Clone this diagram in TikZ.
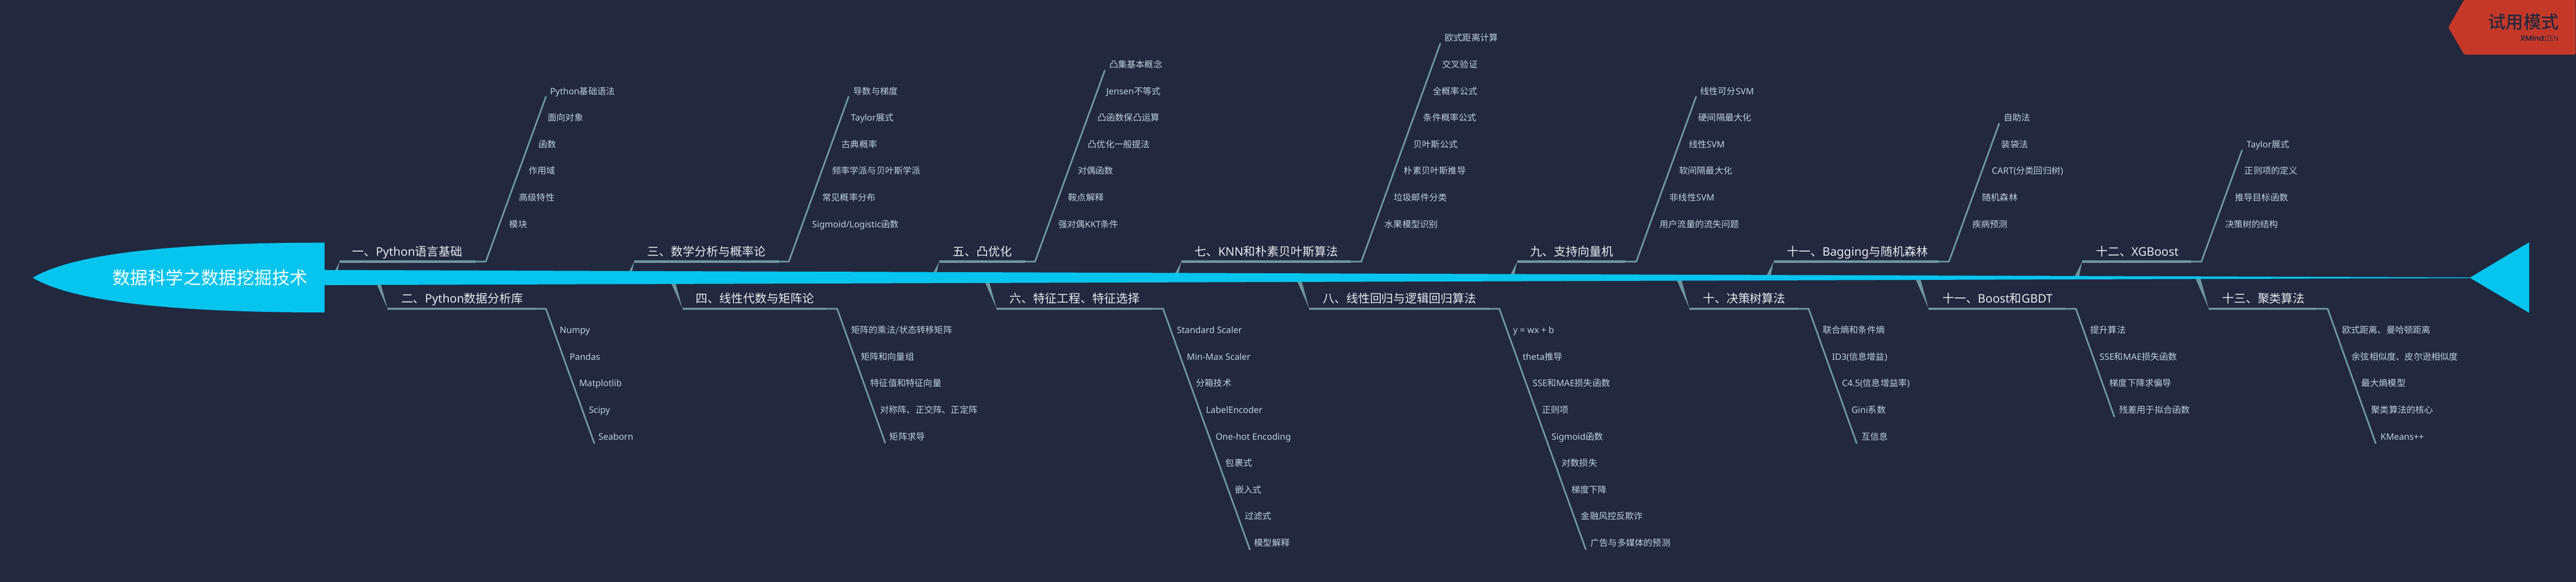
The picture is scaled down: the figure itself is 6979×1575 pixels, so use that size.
\documentclass[tikz,border=0pt]{standalone}
\usepackage{fontspec}
\setmainfont[BoldFont={Noto Sans CJK SC Medium}]{Noto Sans CJK SC}
\newfontfamily\latnFont{Noto Sans}
\newfontfamily\markFont[BoldFont={* SemiBold},UprightFont={* Light}]{Poppins}
\newcommand{\lat}[1]{{\latnFont #1}}
\definecolor{sBack}{HTML}{22283E}
\definecolor{sCyan}{HTML}{05C4EE}
\definecolor{sLimb}{HTML}{6F969F}
\definecolor{sLeaf}{HTML}{BDD3DE}
\definecolor{sHead}{HTML}{E9EBF0}
\definecolor{sRed}{HTML}{C53828}

\begin{document}
\begin{tikzpicture}[x=0.5pt,y=-0.5pt]
		\tikzstyle{rootText} = [inner sep=0pt, text=white, font=\fontsize{24}{24}\selectfont]
		\tikzstyle{title} = [anchor=west, inner sep=0pt, text=sHead, text height=0.88em, text depth=0.12em, font=\fontsize{16}{16}\selectfont]
		\tikzstyle{leaf} = [anchor=west, inner sep=0pt, text=sLeaf, text height=0.88em, text depth=0.12em, font=\fontsize{12}{12}\selectfont]
		\tikzstyle{wedge} = [fill=sLimb]
		\tikzstyle{barThick} = [draw=sLimb, line width=3.25pt]
		\tikzstyle{limb} = [draw=sLimb, line width=2.25pt, line cap=round, miter limit=10]

		\useasboundingbox (0,0) rectangle (6979,1575);
		\fill[sBack] (-10,-10) rectangle (6989,1585);

		% spine ends
		\coordinate (tip) at (89,752);
		\coordinate (headTop) at (879,657);
		\coordinate (headBot) at (879,846);
		\coordinate (spineTopL) at (879,731);
		\coordinate (spineBotL) at (879,772);
		\coordinate (spineTopR) at (6691,751);
		\coordinate (spineBotR) at (6691,753);
		\coordinate (tailTip) at (6691,752);
		\coordinate (tailTop) at (6852,656);
		\coordinate (tailBot) at (6852,847);

		% one
		\coordinate (sOne) at (898,752);
		\coordinate (bOne) at (920,708.5);
		\coordinate (mOne) at (1289,708.5);
		\coordinate (cOne) at (1316,708.5);
		\coordinate (eOne) at (1479,262);
		\fill[wedge] (sOne) -- ++(13,0) -- (bOne) -- cycle;
		\draw[barThick] (bOne) -- (mOne);
		\draw[limb] (mOne) -- (cOne) -- (eOne);
		\node[title] (tOne) at (954,685) {一、\lat{Python}语言基础};
		\node[leaf] (lOneA) at (1490,248) {\lat{Python}基础语法};
		\node[leaf] (lOneB) at (1484,320) {面向对象};
		\node[leaf] (lOneC) at (1459,392) {函数};
		\node[leaf] (lOneD) at (1432,464) {作用域};
		\node[leaf] (lOneE) at (1406,536) {高级特性};
		\node[leaf] (lOneF) at (1380,608) {模块};

		% two
		\coordinate (sTwo) at (1013,752);
		\coordinate (bTwo) at (1050,836);
		\coordinate (mTwo) at (1452,836);
		\coordinate (cTwo) at (1479,836);
		\coordinate (eTwo) at (1610,1200);
		\fill[wedge] (sTwo) -- ++(14,0) -- (bTwo) -- cycle;
		\draw[barThick] (bTwo) -- (mTwo);
		\draw[limb] (mTwo) -- (cTwo) -- (eTwo);
		\node[title] (tTwo) at (1087,813) {二、\lat{Python}数据分析库};
		\node[leaf] (lTwoA) at (1516,895) {\lat{Numpy}};
		\node[leaf] (lTwoB) at (1543,967) {\lat{Pandas}};
		\node[leaf] (lTwoC) at (1569,1039) {\lat{Matplotlib}};
		\node[leaf] (lTwoD) at (1595,1111) {\lat{Scipy}};
		\node[leaf] (lTwoE) at (1621,1183) {\lat{Seaborn}};

		% three
		\coordinate (sThree) at (1696,752);
		\coordinate (bThree) at (1718,708.5);
		\coordinate (mThree) at (2110,708.5);
		\coordinate (cThree) at (2137,708.5);
		\coordinate (eThree) at (2299,262);
		\fill[wedge] (sThree) -- ++(13,0) -- (bThree) -- cycle;
		\draw[barThick] (bThree) -- (mThree);
		\draw[limb] (mThree) -- (cThree) -- (eThree);
		\node[title] (tThree) at (1754,685) {三、数学分析与概率论};
		\node[leaf] (lThreeA) at (2312,248) {导数与梯度};
		\node[leaf] (lThreeB) at (2305,320) {\lat{Taylor}展式};
		\node[leaf] (lThreeC) at (2280,392) {古典概率};
		\node[leaf] (lThreeD) at (2254,464) {频率学派与贝叶斯学派};
		\node[leaf] (lThreeE) at (2228,536) {常见概率分布};
		\node[leaf] (lThreeF) at (2200,608) {\lat{Sigmoid/Logistic}函数};

		% four
		\coordinate (sFour) at (1812,752);
		\coordinate (bFour) at (1849,836);
		\coordinate (mFour) at (2239,836);
		\coordinate (cFour) at (2268,836);
		\coordinate (eFour) at (2398,1199);
		\fill[wedge] (sFour) -- ++(14,0) -- (bFour) -- cycle;
		\draw[barThick] (bFour) -- (mFour);
		\draw[limb] (mFour) -- (cFour) -- (eFour);
		\node[title] (tFour) at (1885,813) {四、线性代数与矩阵论};
		\node[leaf] (lFourA) at (2306,895) {矩阵的乘法/状态转移矩阵};
		\node[leaf] (lFourB) at (2332,967) {矩阵和向量组};
		\node[leaf] (lFourC) at (2358,1039) {特征值和特征向量};
		\node[leaf] (lFourD) at (2384,1111) {对称阵、正交阵、正定阵};
		\node[leaf] (lFourE) at (2410,1183) {矩阵求导};

		% five
		\coordinate (sFive) at (2522,752);
		\coordinate (bFive) at (2544,708.5);
		\coordinate (mFive) at (2777,708.5);
		\coordinate (cFive) at (2804,708.5);
		\coordinate (eFive) at (2993,191);
		\fill[wedge] (sFive) -- ++(13,0) -- (bFive) -- cycle;
		\draw[barThick] (bFive) -- (mFive);
		\draw[limb] (mFive) -- (cFive) -- (eFive);
		\node[title] (tFive) at (2581,685) {五、凸优化};
		\node[leaf] (lFiveA) at (3005,176) {凸集基本概念};
		\node[leaf] (lFiveB) at (2997,248) {\lat{Jensen}不等式};
		\node[leaf] (lFiveC) at (2973,320) {凸函数保凸运算};
		\node[leaf] (lFiveD) at (2947,392) {凸优化一般提法};
		\node[leaf] (lFiveE) at (2920,464) {对偶函数};
		\node[leaf] (lFiveF) at (2894,536) {鞍点解释};
		\node[leaf] (lFiveG) at (2867,608) {强对偶\lat{KKT}条件};

		% six
		\coordinate (sSix) at (2663,752);
		\coordinate (bSix) at (2700,836);
		\coordinate (mSix) at (3121,836);
		\coordinate (cSix) at (3151,836);
		\coordinate (eSix) at (3386,1488);
		\fill[wedge] (sSix) -- ++(14,0) -- (bSix) -- cycle;
		\draw[barThick] (bSix) -- (mSix);
		\draw[limb] (mSix) -- (cSix) -- (eSix);
		\node[title] (tSix) at (2735,813) {六、特征工程、特征选择};
		\node[leaf] (lSixA) at (3188,895) {\lat{Standard Scaler}};
		\node[leaf] (lSixB) at (3215,967) {\lat{Min-Max Scaler}};
		\node[leaf] (lSixC) at (3240,1039) {分箱技术};
		\node[leaf] (lSixD) at (3267,1111) {\lat{LabelEncoder}};
		\node[leaf] (lSixE) at (3293,1183) {\lat{One-hot Encoding}};
		\node[leaf] (lSixF) at (3320,1255) {包裹式};
		\node[leaf] (lSixG) at (3346,1327) {嵌入式};
		\node[leaf] (lSixH) at (3372,1399) {过滤式};
		\node[leaf] (lSixI) at (3398,1471) {模型解释};

		% seven
		\coordinate (sSeven) at (3178,752);
		\coordinate (bSeven) at (3200,708.5);
		\coordinate (mSeven) at (3659,708.5);
		\coordinate (cSeven) at (3688,708.5);
		\coordinate (eSeven) at (3902,118);
		\fill[wedge] (sSeven) -- ++(13,0) -- (bSeven) -- cycle;
		\draw[barThick] (bSeven) -- (mSeven);
		\draw[limb] (mSeven) -- (cSeven) -- (eSeven);
		\node[title] (tSeven) at (3236,685) {七、\lat{KNN}和朴素贝叶斯算法};
		\node[leaf] (lSevenA) at (3914,104) {欧式距离计算};
		\node[leaf] (lSevenB) at (3907,176) {交叉验证};
		\node[leaf] (lSevenC) at (3882,248) {全概率公式};
		\node[leaf] (lSevenD) at (3856,320) {条件概率公式};
		\node[leaf] (lSevenE) at (3829,392) {贝叶斯公式};
		\node[leaf] (lSevenF) at (3803,464) {朴素贝叶斯推导};
		\node[leaf] (lSevenG) at (3776,536) {垃圾邮件分类};
		\node[leaf] (lSevenH) at (3751,608) {水果模型识别};

		% eight
		\coordinate (sEight) at (3510,752);
		\coordinate (bEight) at (3547,836);
		\coordinate (mEight) at (4035,836);
		\coordinate (cEight) at (4062,836);
		\coordinate (eEight) at (4296,1487);
		\fill[wedge] (sEight) -- ++(14,0) -- (bEight) -- cycle;
		\draw[barThick] (bEight) -- (mEight);
		\draw[limb] (mEight) -- (cEight) -- (eEight);
		\node[title] (tEight) at (3583,813) {八、线性回归与逻辑回归算法};
		\node[leaf] (lEightA) at (4099,895) {\lat{y = wx + b}};
		\node[leaf] (lEightB) at (4125,967) {\lat{theta}推导};
		\node[leaf] (lEightC) at (4152,1039) {\lat{SSE}和\lat{MAE}损失函数};
		\node[leaf] (lEightD) at (4178,1111) {正则项};
		\node[leaf] (lEightE) at (4203,1183) {\lat{Sigmoid}函数};
		\node[leaf] (lEightF) at (4231,1255) {对数损失};
		\node[leaf] (lEightG) at (4257,1327) {梯度下降};
		\node[leaf] (lEightH) at (4283,1399) {金融风控反欺诈};
		\node[leaf] (lEightI) at (4309,1471) {广告与多媒体的预测};

		% nine
		\coordinate (sNine) at (4088,752);
		\coordinate (bNine) at (4110,708.5);
		\coordinate (mNine) at (4404,708.5);
		\coordinate (cNine) at (4433,708.5);
		\coordinate (eNine) at (4595,262);
		\fill[wedge] (sNine) -- ++(13,0) -- (bNine) -- cycle;
		\draw[barThick] (bNine) -- (mNine);
		\draw[limb] (mNine) -- (cNine) -- (eNine);
		\node[title] (tNine) at (4146,685) {九、支持向量机};
		\node[leaf] (lNineA) at (4606,248) {线性可分\lat{SVM}};
		\node[leaf] (lNineB) at (4601,320) {硬间隔最大化};
		\node[leaf] (lNineC) at (4575,392) {线性\lat{SVM}};
		\node[leaf] (lNineD) at (4549,464) {软间隔最大化};
		\node[leaf] (lNineE) at (4523,536) {非线性\lat{SVM}};
		\node[leaf] (lNineF) at (4496,608) {用户流量的流失问题};

		% ten
		\coordinate (sTen) at (4540,752);
		\coordinate (bTen) at (4577,836);
		\coordinate (mTen) at (4873,836);
		\coordinate (cTen) at (4900,836);
		\coordinate (eTen) at (5030,1200);
		\fill[wedge] (sTen) -- ++(14,0) -- (bTen) -- cycle;
		\draw[barThick] (bTen) -- (mTen);
		\draw[limb] (mTen) -- (cTen) -- (eTen);
		\node[title] (tTen) at (4613,813) {十、决策树算法};
		\node[leaf] (lTenA) at (4938,895) {联合熵和条件熵};
		\node[leaf] (lTenB) at (4963,967) {\lat{ID3(}信息增益\lat{)}};
		\node[leaf] (lTenC) at (4990,1039) {\lat{C4.5(}信息增益率\lat{)}};
		\node[leaf] (lTenD) at (5016,1111) {\lat{Gini}系数};
		\node[leaf] (lTenE) at (5043,1183) {互信息};

		% eleven, upper one
		\coordinate (sBag) at (4783,752);
		\coordinate (bBag) at (4805,708.5);
		\coordinate (mBag) at (5253,708.5);
		\coordinate (cBag) at (5280,708.5);
		\coordinate (eBag) at (5416,335);
		\fill[wedge] (sBag) -- ++(13,0) -- (bBag) -- cycle;
		\draw[barThick] (bBag) -- (mBag);
		\draw[limb] (mBag) -- (cBag) -- (eBag);
		\node[title] (tBag) at (4841,685) {十一、\lat{Bagging}与随机森林};
		\node[leaf] (lBagA) at (5428,320) {自助法};
		\node[leaf] (lBagB) at (5422,392) {装袋法};
		\node[leaf] (lBagC) at (5396,464) {\lat{CART(}分类回归树\lat{)}};
		\node[leaf] (lBagD) at (5370,536) {随机森林};
		\node[leaf] (lBagE) at (5343,608) {疾病预测};

		% eleven, lower one
		\coordinate (sBoost) at (5188,752);
		\coordinate (bBoost) at (5225,836);
		\coordinate (mBoost) at (5594,836);
		\coordinate (cBoost) at (5624,836);
		\coordinate (eBoost) at (5728,1128);
		\fill[wedge] (sBoost) -- ++(14,0) -- (bBoost) -- cycle;
		\draw[barThick] (bBoost) -- (mBoost);
		\draw[limb] (mBoost) -- (cBoost) -- (eBoost);
		\node[title] (tBoost) at (5262,813) {十一、\lat{Boost}和\lat{GBDT}};
		\node[leaf] (lBoostA) at (5663,895) {提升算法};
		\node[leaf] (lBoostB) at (5688,967) {\lat{SSE}和\lat{MAE}损失函数};
		\node[leaf] (lBoostC) at (5715,1039) {梯度下降求偏导};
		\node[leaf] (lBoostD) at (5741,1111) {残差用于拟合函数};

		% twelve
		\coordinate (sTwelve) at (5619,752);
		\coordinate (bTwelve) at (5641,708.5);
		\coordinate (mTwelve) at (5936,708.5);
		\coordinate (cTwelve) at (5964,708.5);
		\coordinate (eTwelve) at (6074,407);
		\fill[wedge] (sTwelve) -- ++(13,0) -- (bTwelve) -- cycle;
		\draw[barThick] (bTwelve) -- (mTwelve);
		\draw[limb] (mTwelve) -- (cTwelve) -- (eTwelve);
		\node[title] (tTwelve) at (5678,685) {十二、\lat{XGBoost}};
		\node[leaf] (lTwelveA) at (6086,392) {\lat{Taylor}展式};
		\node[leaf] (lTwelveB) at (6081,464) {正则项的定义};
		\node[leaf] (lTwelveC) at (6055,536) {推导目标函数};
		\node[leaf] (lTwelveD) at (6028,608) {决策树的结构};

		% thirteen
		\coordinate (sThirteen) at (5947,752);
		\coordinate (bThirteen) at (5984,836);
		\coordinate (mThirteen) at (6274,836);
		\coordinate (cThirteen) at (6306,836);
		\coordinate (eThirteen) at (6436,1200);
		\fill[wedge] (sThirteen) -- ++(14,0) -- (bThirteen) -- cycle;
		\draw[barThick] (bThirteen) -- (mThirteen);
		\draw[limb] (mThirteen) -- (cThirteen) -- (eThirteen);
		\node[title] (tThirteen) at (6020,813) {十三、聚类算法};
		\node[leaf] (lThirteenA) at (6345,895) {欧式距离、曼哈顿距离};
		\node[leaf] (lThirteenB) at (6371,967) {余弦相似度、皮尔逊相似度};
		\node[leaf] (lThirteenC) at (6397,1039) {最大熵模型};
		\node[leaf] (lThirteenD) at (6424,1111) {聚类算法的核心};
		\node[leaf] (lThirteenE) at (6449,1183) {\lat{KMeans++}};

		% spine, head and tail go over the wedges
		\fill[sCyan] (spineTopL) -- (spineTopR) -- (spineBotR) -- (spineBotL) -- cycle;
		\fill[sCyan] (tip) .. controls (193,689) and (456,657) .. (headTop) -- (headBot) .. controls (456,846) and (193,815) .. (tip) -- cycle;
		\fill[sCyan] (tailTip) -- (tailTop) -- (tailBot) -- cycle;
		\node[rootText] (root) at (569,751) {数据科学之数据挖掘技术};

		% trial badge
		\coordinate (badgeTip) at (6633,74);
		\coordinate (badgeTL) at (6676,-1);
		\coordinate (badgeTR) at (6978,-1);
		\coordinate (badgeBR) at (6978,148);
		\coordinate (badgeBL) at (6676,148);
		\fill[sRed, rounded corners=2pt] (badgeTip) -- (badgeTL) -- (badgeTR) -- (badgeBR) -- (badgeBL) -- cycle;
		\node[anchor=east, inner sep=0pt, text=sBack, font=\fontsize{24}{24}\selectfont\bfseries] (trial) at (6933,60) {试用模式};
		\node[anchor=east, inner sep=0pt, text=sBack, font=\fontsize{10}{10}\selectfont\markFont] (brand) at (6932,103) {\textbf{XMind:}ZEN};
\end{tikzpicture}
\end{document}
